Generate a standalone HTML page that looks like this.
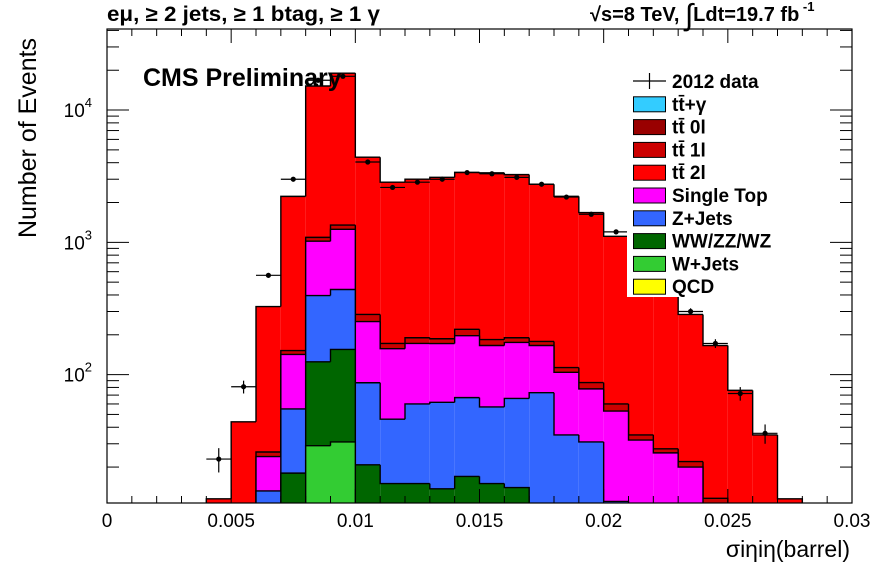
<!DOCTYPE html>
<html><head><meta charset="utf-8"><style>
body{margin:0;background:#fff;}
svg text{font-family:"Liberation Sans",sans-serif;}
</style></head><body>
<svg id="c" width="896" height="572" viewBox="0 0 896 572" xmlns="http://www.w3.org/2000/svg">
<rect width="896" height="572" fill="#fff"/>
<g id="bars"></g>
<g id="data"></g>
<g id="axes"></g>
<g id="legend"></g>
<text x="143" y="86" font-size="25" font-weight="bold">CMS Preliminary</text>
<text x="107" y="21" font-size="21" font-weight="bold" textLength="273" lengthAdjust="spacingAndGlyphs">eμ, ≥ 2 jets, ≥ 1 btag, ≥ 1 γ</text>
<text x="590" y="21" font-size="20" font-weight="bold">√s=8 TeV,   <tspan font-size="30" font-weight="normal" dy="4">∫</tspan><tspan dy="-4">Ldt=19.7 fb</tspan><tspan font-size="13" dy="-10"> -1</tspan></text>
<text transform="translate(36,138) rotate(-90)" text-anchor="middle" font-size="25">Number of Events</text>
<text x="850" y="557" text-anchor="end" font-size="23">σiηiη(barrel)</text>
</svg>
<script>
const binEdgesStart = 0.004;
const binWidth = 0.001;
const wjets = [0,0,0,0,29,31,0,0,0,0,0,0,0,0,0,0,0,0,0,0,0,0,0,0];
const diboson = [0,0,0,18,96,124,20.8,15,15,13.7,17,15,14,0,0,0,0,0,0,0,0,0,0,0];
const zjets = [0,0,13.2,37,271,285,66,31,45,48,50,42,52,73,35,31,11,0,0,0,0,0,0,0];
const singleTop = [0,0,10.8,87,624,815,165,111,112,110,130,109,109,93,69,47,42,32,25.6,20,8,0,0,0];
const tt1l = [0,0,2,10,70,95,33,15,18,15,23,18,15,12,9,9,7,3,1.9,2,3.6,0,0,0];
const tt2l = [11.5,44,301,2074,14110,17650,4115,2678,2810,2913,3160,3166,3060,2572,2113,1593,1050,695,422.5,263,154.4,76,35,11.5];
const dataX = [0.0045,0.0055,0.0065,0.0075,0.0085,0.0095,0.0105,0.0115,0.0125,0.0135,0.0145,0.0155,0.0165,0.0175,0.0185,0.0195,0.0205,0.0215,0.0225,0.0235,0.0245,0.0255,0.0265];
const dataY = [23,81,563,3000,16800,18000,4050,2600,2850,3000,3370,3300,3100,2750,2200,1630,1200,680,445,300,172,72,36];
const xTicks = [0,0.005,0.01,0.015,0.02,0.025,0.03];
const xTickLabels = ["0","0.005","0.01","0.015","0.02","0.025","0.03"];
const yDecades = [2,3,4];

const L=107,R=852,T=29,B=503, XMAX=0.03, YMIN=10.7, YMAX=41000;
const sx=v=>L+(R-L)*v/XMAX;
const sy=v=>{v=Math.max(v,YMIN);return B-(B-T)*(Math.log10(v)-Math.log10(YMIN))/(Math.log10(YMAX)-Math.log10(YMIN));};
const NS="http://www.w3.org/2000/svg";
function mk(tag,at,parent){const e=document.createElementNS(NS,tag);for(const k in at)e.setAttribute(k,at[k]);parent.appendChild(e);return e;}

const series=[["w-jets",wjets,"#33cc33"],["diboson",diboson,"#006600"],["z-jets",zjets,"#3366ff"],["single-top",singleTop,"#ff00ff"],["ttbar-1l",tt1l,"#cc0000"],["ttbar-2l",tt2l,"#ff0000"]];
const n=tt2l.length;
const cum=new Array(n).fill(0);
const layers=[];
series.forEach(s=>{const lo=cum.slice();for(let i=0;i<n;i++)cum[i]+=s[1][i];layers.push([s[0],lo,cum.slice(),s[2]]);});
const gb=document.getElementById('bars');
for(let k=layers.length-1;k>=0;k--){
  const [nm,lo,hi,col]=layers[k];
  for(let i=0;i<n;i++){
    if(hi[i]<=lo[i]||hi[i]<=YMIN)continue;
    const x0=sx(binEdgesStart+i*binWidth),x1=sx(binEdgesStart+(i+1)*binWidth);
    const y1=sy(hi[i]),y0=sy(lo[i]);
    const r=mk('rect',{x:x0,y:y1,width:x1-x0,height:y0-y1,fill:col},gb);
    
    
  }
  let d="";
  for(let i=0;i<n;i++){
    if(hi[i]<=lo[i]||hi[i]<=YMIN)continue;
    const x0=sx(binEdgesStart+i*binWidth),x1=sx(binEdgesStart+(i+1)*binWidth);
    const prev=(i>0&&hi[i-1]>lo[i-1]&&hi[i-1]>YMIN)?sy(hi[i-1]):B;
    const next=(i<n-1&&hi[i+1]>lo[i+1]&&hi[i+1]>YMIN)?null:B;
    d+=`M${x0},${prev}L${x0},${sy(hi[i])}L${x1},${sy(hi[i])}`;
    if(next!==null)d+=`L${x1},${B}`;
  }
  const p=mk('path',{d:d,fill:"none",stroke:"#000","stroke-width":1.4},gb);
  
  
}
const gd=document.getElementById('data');
for(let i=0;i<dataX.length;i++){
  const x=sx(dataX[i]),y=sy(dataY[i]),e=Math.sqrt(dataY[i]);
  const g=mk('g',{},gd);
  
  
  mk('line',{x1:sx(dataX[i]-binWidth/2),x2:sx(dataX[i]+binWidth/2),y1:y,y2:y,stroke:"#000","stroke-width":1.2},g);
  mk('line',{x1:x,x2:x,y1:sy(dataY[i]+e),y2:sy(dataY[i]-e),stroke:"#000","stroke-width":1.2},g);
  mk('circle',{cx:x,cy:y,r:2.6,fill:"#000"},g);
}
const ga=document.getElementById('axes');
const fr=mk('rect',{x:L,y:T,width:R-L,height:B-T,fill:"none",stroke:"#000","stroke-width":1.2},ga);


for(let k=0;k<=30;k++){
  const v=k*0.001,x=sx(v),len=(k%5==0)?14:7;
  mk('line',{x1:x,x2:x,y1:B,y2:B-len,stroke:"#000","stroke-width":1},ga);
  mk('line',{x1:x,x2:x,y1:T,y2:T+len,stroke:"#000","stroke-width":1},ga);
}
xTicks.forEach((v,i)=>{const t=mk('text',{x:sx(v),y:527,"text-anchor":"middle","font-size":19},ga);t.textContent=xTickLabels[i];
  
  });
for(let d=1;d<=4;d++){for(let m=1;m<=9;m++){const v=m*Math.pow(10,d);if(v<YMIN||v>YMAX)continue;const y=sy(v),len=(m==1)?22:12;
  mk('line',{x1:L,x2:L+len,y1:y,y2:y,stroke:"#000","stroke-width":1},ga);
  mk('line',{x1:R,x2:R-len,y1:y,y2:y,stroke:"#000","stroke-width":1},ga);}}
yDecades.forEach(p=>{const t=mk('text',{x:92,y:sy(Math.pow(10,p))+7,"text-anchor":"end","font-size":19},ga);
  t.innerHTML='10<tspan font-size="13" dy="-10">'+p+'</tspan>';
  
  });
const gl=document.getElementById('legend');
mk('rect',{x:627,y:70,width:170,height:227,fill:"#fff"},gl);
const legItems=[["2012 data",null],["tt̄+γ","#33ccff"],["tt̄ 0l","#990000"],["tt̄ 1l","#cc0000"],["tt̄ 2l","#ff0000"],["Single Top","#ff00ff"],["Z+Jets","#3366ff"],["WW/ZZ/WZ","#006600"],["W+Jets","#33cc33"],["QCD","#ffff00"]];
legItems.forEach((it,i)=>{const yc=81+i*22.8;const g=mk('g',{},gl);
  
  
  if(it[1]){mk('rect',{x:633.5,y:yc-7,width:32,height:15,fill:it[1],stroke:"#000","stroke-width":1},g);}
  else{mk('line',{x1:633,x2:666,y1:yc,y2:yc,stroke:"#000","stroke-width":1.2},g);mk('line',{x1:649.5,x2:649.5,y1:yc-8,y2:yc+8,stroke:"#000","stroke-width":1.2},g);}
  const t=mk('text',{x:672,y:yc+7,"font-size":19,"font-weight":"bold"},g);t.textContent=it[0];});
</script>
</body></html>
